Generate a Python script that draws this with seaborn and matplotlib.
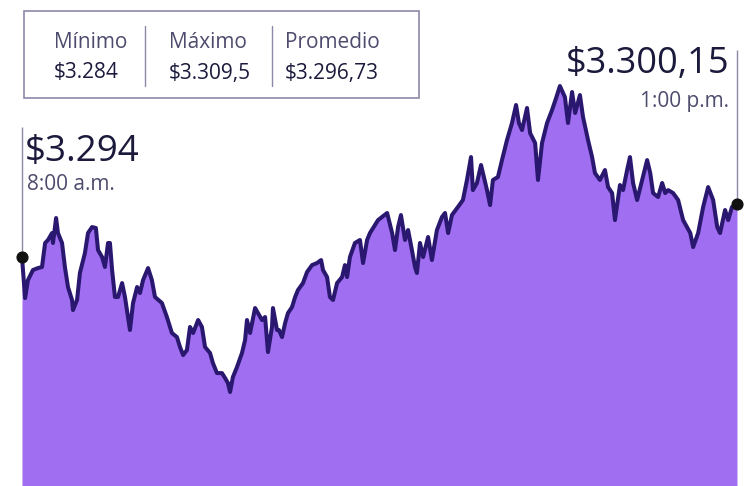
"""
Cotizacion del dolar durante la jornada - grafico de area
Guarda out.png
"""
import matplotlib.pyplot as plt
import matplotlib.patches as mpatches
import seaborn as sns

# Datos (minutos desde las 8:00 a.m., precio en pesos)
minutos = [
    0, 1.3, 2.5, 4.6, 6.7, 8.4, 9.7, 10.9, 12.6, 13.0, 14.3, 15.1, 16.8, 18.0,
    19.3, 21.0, 21.4, 23.1, 24.3, 26.4, 27.7, 29.4, 31.0, 31.9, 33.6, 34.8,
    36.1, 36.9, 37.8, 39.0, 40.3, 42.0, 43.2, 45.3, 46.6, 48.3, 49.5, 50.8,
    52.9, 54.5, 55.8, 58.7, 60.8, 62.9, 65.0, 66.3, 67.6, 69.2, 70.5, 71.8,
    73.9, 75.5, 76.8, 78.9, 80.1, 81.8, 83.9, 85.2, 86.4, 87.3, 88.5, 90.2,
    92.3, 93.6, 94.4, 95.7, 97.8, 99.0, 100.7, 102.0, 103.2, 104.9, 105.3,
    107.0, 107.8, 109.1, 110.4, 111.6, 113.3, 114.6, 115.8, 117.9, 119.6,
    121.7, 123.8, 125.5, 126.3, 128.0, 129.2, 130.5, 132.2, 134.3, 135.5,
    136.4, 137.6, 139.7, 141.8, 143.1, 144.8, 146.0, 149.4, 153.2, 155.3,
    156.5, 157.8, 159.0, 160.7, 162.0, 163.6, 164.9, 165.7, 167.0, 168.3,
    170.4, 172.0, 174.1, 176.2, 177.5, 178.8, 180.4, 182.9, 185.0, 186.7,
    188.4, 189.2, 190.9, 192.6, 193.4, 195.1, 196.4, 197.6, 199.7, 201.4,
    203.5, 205.6, 207.3, 208.5, 209.8, 211.9, 213.2, 215.3, 216.5, 218.2,
    220.3, 222.4, 224.1, 225.7, 227.8, 229.1, 230.8, 232.1, 234.1, 235.4,
    237.5, 239.2, 240.4, 242.5, 244.6, 245.9, 247.6, 248.8, 250.9, 252.2,
    253.9, 255.1, 256.4, 258.1, 260.2, 262.3, 263.6, 264.8, 266.9, 268.6,
    269.9, 271.1, 273.2, 275.3, 277.4, 280.4, 281.6, 283.7, 285.8, 287.9,
    290.0, 291.7, 292.9, 295.0, 296.3, 297.9, 300.0,
]
precio = [
    3295.25, 3291.83, 3293.33, 3294.17, 3294.33, 3294.42, 3296.42, 3296.67,
    3297.25, 3296.42, 3298.50, 3297.25, 3296.42, 3294.42, 3292.75, 3291.67,
    3290.83, 3291.67, 3293.92, 3295.58, 3297.25, 3297.75, 3297.67, 3295.83,
    3295.25, 3294.42, 3296.42, 3296.42, 3294.17, 3291.92, 3291.92, 3293.08,
    3291.92, 3289.17, 3291.42, 3292.75, 3292.25, 3293.33, 3294.33, 3293.33,
    3291.92, 3291.42, 3290.25, 3288.92, 3288.58, 3287.75, 3287.08, 3287.50,
    3289.42, 3288.92, 3290.00, 3289.42, 3287.75, 3287.25, 3286.42, 3285.58,
    3285.58, 3285.17, 3284.75, 3284.00, 3285.25, 3286.08, 3287.25, 3288.33,
    3290.00, 3288.92, 3291.00, 3290.58, 3290.00, 3290.25, 3287.33, 3289.42,
    3291.00, 3289.17, 3289.17, 3288.58, 3289.75, 3290.58, 3291.08, 3291.92,
    3292.50, 3293.08, 3294.00, 3294.58, 3294.75, 3295.00, 3294.17, 3293.58,
    3291.92, 3291.67, 3293.08, 3293.58, 3294.58, 3293.58, 3295.25, 3296.42,
    3296.67, 3294.75, 3296.67, 3297.25, 3298.33, 3298.92, 3297.25, 3295.83,
    3297.75, 3298.75, 3296.67, 3297.50, 3295.83, 3294.42, 3293.92, 3296.42,
    3295.25, 3296.92, 3295.00, 3297.50, 3298.58, 3298.92, 3297.25, 3298.75,
    3299.42, 3300.00, 3301.67, 3303.58, 3300.83, 3301.42, 3302.92, 3302.25,
    3300.83, 3299.58, 3301.67, 3301.92, 3303.33, 3305.00, 3306.42, 3307.92,
    3306.42, 3305.83, 3307.67, 3305.58, 3304.75, 3301.67, 3304.75, 3306.42,
    3307.50, 3308.50, 3309.50, 3308.58, 3306.42, 3309.00, 3307.25, 3308.75,
    3306.92, 3305.00, 3303.58, 3302.25, 3301.67, 3302.50, 3301.08, 3300.58,
    3298.33, 3301.25, 3300.83, 3302.50, 3303.58, 3301.42, 3300.00, 3301.67,
    3303.33, 3302.25, 3300.58, 3300.25, 3301.42, 3300.58, 3300.83, 3300.58,
    3300.00, 3298.33, 3297.25, 3296.08, 3297.25, 3299.42, 3301.08, 3300.00,
    3297.75, 3297.25, 3299.17, 3298.33, 3299.42, 3299.67,
]

resumen_titulos = ["Mínimo", "Máximo", "Promedio"]
resumen_valores = ["$3.284", "$3.309,5", "$3.296,73"]
apertura_valor, apertura_hora = "$3.294", "8:00 a.m."
cierre_valor, cierre_hora = "$3.300,15", "1:00 p.m."

# Colores
RELLENO = "#a06ef0"
LINEA = "#2a1870"
TEXTO = "#1c1a3c"
TEXTO_GRIS = "#4e4c6e"
BORDE = "#8c88aa"

sns.set_theme(style="white")
plt.rcParams["font.family"] = ["Open Sans", "DejaVu Sans"]

W, H = 748, 486
fig = plt.figure(figsize=(W / 100, H / 100), dpi=100)
ax = fig.add_axes([0, 0, 1, 1])
ax.set_axis_off()

# Area y linea
ax.fill_between(minutos, precio, 3270, color=RELLENO, linewidth=0)
sns.lineplot(x=minutos, y=precio, ax=ax, color=LINEA, linewidth=2.9,
             estimator=None, sort=False)
ax.set_xlim(-9.23, 304.62)
ax.set_ylim(3276.17, 3316.67)

# Marcadores de apertura y cierre
ax.vlines(minutos[0], precio[0], 3306.1, color=BORDE, linewidth=1)
ax.vlines(minutos[-1], precio[-1], 3312.5, color=BORDE, linewidth=1)
ax.scatter([minutos[0], minutos[-1]], [precio[0], precio[-1]],
           s=60, color="#111111", zorder=5)


def fx(px):
    return px / W


def fy(py):
    return 1 - py / H


fig.text(fx(25), fy(152), apertura_valor, fontsize=26.5, color=TEXTO, va="center")
fig.text(fx(27), fy(184), apertura_hora, fontsize=15, color=TEXTO_GRIS, va="center")
fig.text(fx(729), fy(64), cierre_valor, fontsize=26, color=TEXTO, va="center", ha="right")
fig.text(fx(729), fy(101), cierre_hora, fontsize=15, color=TEXTO_GRIS, va="center", ha="right")

# Caja de resumen
caja = mpatches.Rectangle((fx(24), fy(98)), (419 - 24) / W, (98 - 11) / H,
                          transform=fig.transFigure, fill=False,
                          edgecolor=BORDE, linewidth=1.2)
fig.patches.append(caja)
for xp in (145, 272):
    fig.lines.append(plt.Line2D([fx(xp), fx(xp)], [fy(86), fy(26)],
                                transform=fig.transFigure, color=BORDE, linewidth=1))

for xp, titulo, valor in zip((54, 169, 285), resumen_titulos, resumen_valores):
    fig.text(fx(xp), fy(42), titulo, fontsize=15, color=TEXTO_GRIS, va="center")
    fig.text(fx(xp), fy(73), valor, fontsize=15, color=TEXTO, va="center")

fig.savefig("out.png", dpi=100)
plt.close(fig)
